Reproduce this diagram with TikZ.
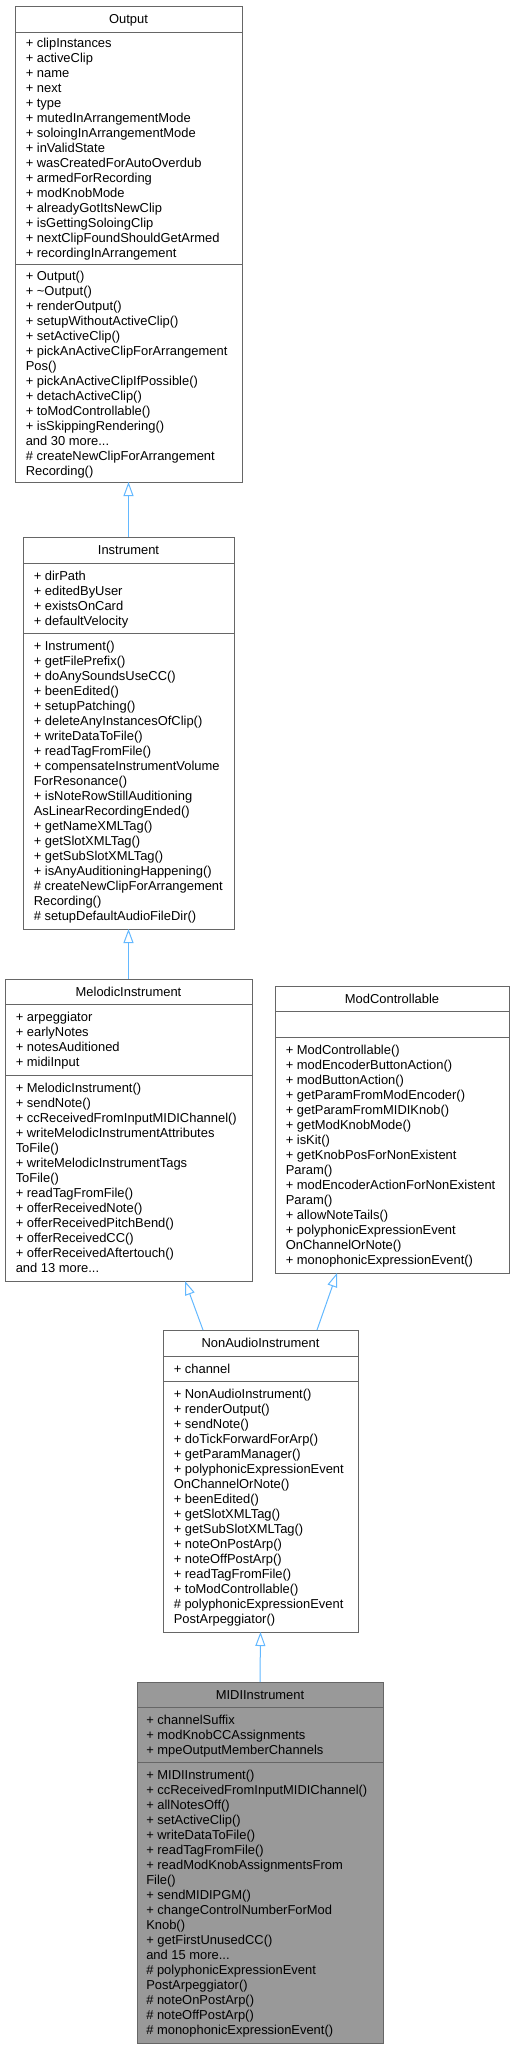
\documentclass[tikz,border=0pt]{standalone}
\usepackage{fontspec}
\setmainfont{Liberation Sans}
\usetikzlibrary{arrows.meta}
\definecolor{edgeblue}{HTML}{63B8FF}
\definecolor{boxline}{HTML}{666666}
\definecolor{hlfill}{HTML}{999999}
\newcommand\memberfont{\fontsize{9.7pt}{11pt}\selectfont}
\newcommand\threedots{...}
\tikzset{
  classbox/.style={draw=boxline, line width=0.75pt, inner sep=0pt, outer sep=0pt},
  sepline/.style={draw=boxline, line width=0.75pt},
  member/.style={anchor=base west, inner sep=0pt, font=\memberfont},
  classtitle/.style={anchor=base, inner sep=0pt, font=\memberfont},
  inherit/.style={draw=edgeblue, line width=0.75pt, -{Triangle[open, length=10.5pt, width=7.5pt, fill=white]}},
}
\newcommand\classbox[9]{%
  \pgfmathsetmacro\cw{(#4-#2)*0.75}%
  \pgfmathsetmacro\ch{(#5-#3)*0.75}%
  \node[classbox, fill=#9, minimum width=\cw pt, minimum height=\ch pt] (#1) at ({(#2+#4)/2},{(#3+#5)/2}) {};
  \draw[sepline] (#2,#6) -- (#4,#6);
  \draw[sepline] (#2,#7) -- (#4,#7);
  \node[classtitle] (#1-title) at ({(#2+#4)/2},{(#3+#6)/2+4.5}) {#8};
}
\newcommand\members[5]{%
  \foreach \t [count=\k] in {#5} {\xdef\nmem{\k}}%
  \pgfmathsetmacro\yfirst{(#3+#4)/2 - (\nmem-1)*7.5 + 4.5}%
  \foreach \t [count=\k] in {#5} {\node[member] (#1-\k) at (#2, {\yfirst+(\k-1)*15}) {\t};}
}
\begin{document}
\begin{tikzpicture}[x=0.75pt, y=-0.75pt]
\useasboundingbox (0,0) rectangle (515,2049);

% Output
\classbox{out}{15}{6}{242}{482}{32}{264}{Output}{white}
\members{outa}{25.5}{32}{264}{%
{+ clipInstances},{+ activeClip},{+ name},{+ next},{+ type},{+ mutedInArrangementMode},
{+ soloingInArrangementMode},{+ inValidState},{+ wasCreatedForAutoOverdub},{+ armedForRecording},
{+ modKnobMode},{+ alreadyGotItsNewClip},{+ isGettingSoloingClip},{+ nextClipFoundShouldGetArmed},
{+ recordingInArrangement}}
\members{outm}{25.5}{264}{482}{%
{+ Output()},{+ \textasciitilde Output()},{+ renderOutput()},{+ setupWithoutActiveClip()},{+ setActiveClip()},
{+ pickAnActiveClipForArrangement},{Pos()},{+ pickAnActiveClipIfPossible()},{+ detachActiveClip()},
{+ toModControllable()},{+ isSkippingRendering()},{and 30 more\threedots},{\# createNewClipForArrangement},{Recording()}}

% Instrument
\classbox{ins}{23}{537}{234}{929}{563}{633}{Instrument}{white}
\members{insa}{33.5}{563}{633}{{+ dirPath},{+ editedByUser},{+ existsOnCard},{+ defaultVelocity}}
\members{insm}{33.5}{633}{929}{%
{+ Instrument()},{+ getFilePrefix()},{+ doAnySoundsUseCC()},{+ beenEdited()},{+ setupPatching()},
{+ deleteAnyInstancesOfClip()},{+ writeDataToFile()},{+ readTagFromFile()},{+ compensateInstrumentVolume},
{ForResonance()},{+ isNoteRowStillAuditioning},{AsLinearRecordingEnded()},{+ getNameXMLTag()},
{+ getSlotXMLTag()},{+ getSubSlotXMLTag()},{+ isAnyAuditioningHappening()},{\# createNewClipForArrangement},
{Recording()},{\# setupDefaultAudioFileDir()}}

% MelodicInstrument
\classbox{mel}{5}{979}{252}{1281}{1004}{1075}{MelodicInstrument}{white}
\members{mela}{15.5}{1004}{1075}{{+ arpeggiator},{+ earlyNotes},{+ notesAuditioned},{+ midiInput}}
\members{melm}{15.5}{1075}{1281}{%
{+ MelodicInstrument()},{+ sendNote()},{+ ccReceivedFromInputMIDIChannel()},{+ writeMelodicInstrumentAttributes},
{ToFile()},{+ writeMelodicInstrumentTags},{ToFile()},{+ readTagFromFile()},{+ offerReceivedNote()},
{+ offerReceivedPitchBend()},{+ offerReceivedCC()},{+ offerReceivedAftertouch()},{and 13 more\threedots}}

% ModControllable
\classbox{mod}{275}{986}{509}{1273}{1011}{1037}{ModControllable}{white}
\members{modm}{285.5}{1037}{1273}{%
{+ ModControllable()},{+ modEncoderButtonAction()},{+ modButtonAction()},{+ getParamFromModEncoder()},
{+ getParamFromMIDIKnob()},{+ getModKnobMode()},{+ isKit()},{+ getKnobPosForNonExistent},{Param()},
{+ modEncoderActionForNonExistent},{Param()},{+ allowNoteTails()},{+ polyphonicExpressionEvent},
{OnChannelOrNote()},{+ monophonicExpressionEvent()}}

% NonAudioInstrument
\classbox{non}{163}{1330}{358}{1632}{1356}{1381}{NonAudioInstrument}{white}
\members{nona}{173.5}{1356}{1381}{{+ channel}}
\members{nonm}{173.5}{1381}{1632}{%
{+ NonAudioInstrument()},{+ renderOutput()},{+ sendNote()},{+ doTickForwardForArp()},{+ getParamManager()},
{+ polyphonicExpressionEvent},{OnChannelOrNote()},{+ beenEdited()},{+ getSlotXMLTag()},{+ getSubSlotXMLTag()},
{+ noteOnPostArp()},{+ noteOffPostArp()},{+ readTagFromFile()},{+ toModControllable()},
{\# polyphonicExpressionEvent},{PostArpeggiator()}}

% MIDIInstrument
\classbox{midi}{137}{1682}{383}{2043}{1707}{1762}{MIDIInstrument}{hlfill}
\members{midia}{146}{1707}{1762}{{+ channelSuffix},{+ modKnobCCAssignments},{+ mpeOutputMemberChannels}}
\members{midim}{146}{1762}{2043}{%
{+ MIDIInstrument()},{+ ccReceivedFromInputMIDIChannel()},{+ allNotesOff()},{+ setActiveClip()},
{+ writeDataToFile()},{+ readTagFromFile()},{+ readModKnobAssignmentsFrom},{File()},{+ sendMIDIPGM()},
{+ changeControlNumberForMod},{Knob()},{+ getFirstUnusedCC()},{and 15 more\threedots},
{\# polyphonicExpressionEvent},{PostArpeggiator()},{\# noteOnPostArp()},{\# noteOffPostArp()},
{\# monophonicExpressionEvent()}}

% inheritance connectors
\coordinate (nonL) at (203,1330);
\coordinate (melB) at (185,1281);
\coordinate (nonR) at (317,1330);
\coordinate (modB) at (337,1273);
\draw[inherit] (ins.north) -- (out.south);
\draw[inherit] (mel.north) -- (ins.south);
\draw[inherit] (nonL) -- (melB);
\draw[inherit] (nonR) -- (modB);
\draw[inherit] (midi.north) -- (non.south);
\end{tikzpicture}
\end{document}
